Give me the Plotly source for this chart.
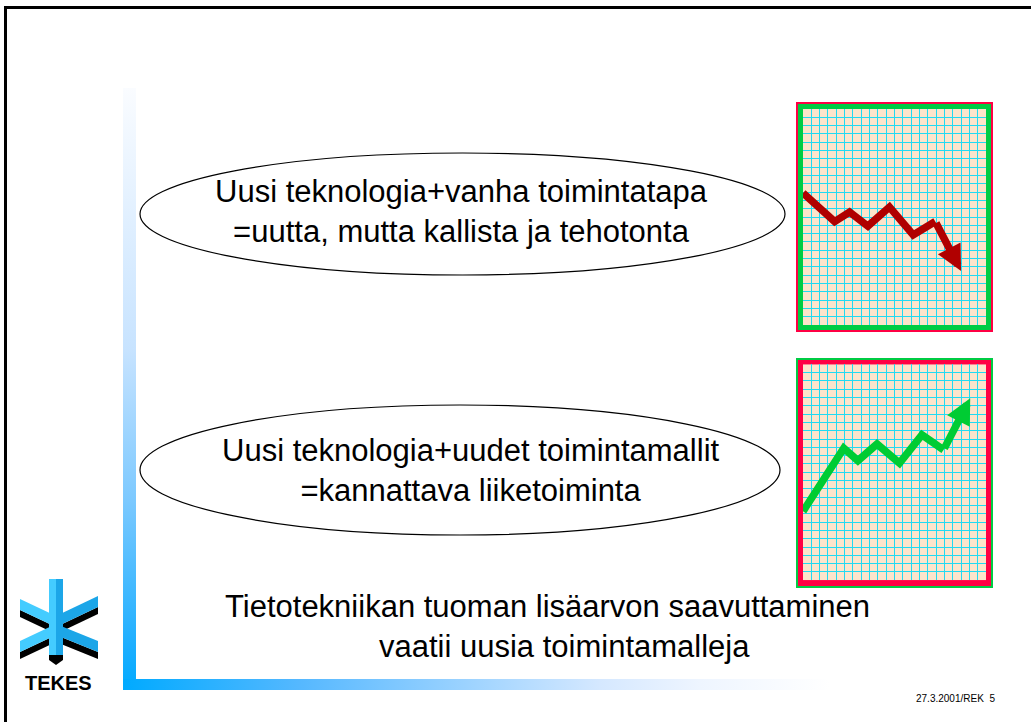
import plotly.graph_objects as go

# ---------------- data ----------------
# mini-chart series, in grid units (22 columns x 26 rows)
down_x = [0.0, 3.8, 5.6, 7.8, 10.4, 13.25, 15.9, 19.0]
down_y = [15.9, 12.45, 13.6, 11.9, 14.2, 10.85, 12.45, 6.5]
up_x = [0.0, 4.9, 6.6, 8.9, 11.6, 14.3, 16.9, 20.1]
up_y = [8.3, 15.9, 14.4, 16.4, 14.1, 17.5, 15.7, 21.9]
grid_cols = 22
grid_rows = 26

ellipse_texts = [
    "Uusi teknologia+vanha toimintatapa<br>=uutta, mutta kallista ja tehotonta",
    "Uusi teknologia+uudet toimintamallit<br>=kannattava liiketoiminta",
]
conclusion_lines = [
    "Tietotekniikan tuoman lisäarvon saavuttaminen",
    "vaatii uusia toimintamalleja",
]
footer_text = "27.3.2001/REK  5"
logo_text = "TEKES"

# ---------------- figure ----------------
W, H = 1031, 722
FONT = "Liberation Sans, Arial, sans-serif"
RED = "#FF0044"
GREEN = "#00CC44"
BEIGE = "#FDE4CB"
GRIDC = "#22DAF2"
BLUE = "#44CCFF"
BLUE_D = "#1CA6E8"
LW = 7.5

fig = go.Figure()

# gradient decoration bars (main pixel axes)
fig.add_trace(go.Scatter(
    x=[123, 136, 136, 123, 123], y=[88, 88, 690, 690, 88], mode="lines",
    fill="toself", line=dict(width=0), hoverinfo="skip", showlegend=False,
    fillgradient=dict(type="vertical", start=88, stop=690,
                      colorscale=[[0, "#FAFCFF"], [0.435, "#C7E3FF"], [0.684, "#7CC9FF"],
                                  [0.934, "#1AAEFF"], [1, "#00AAFF"]]),
    xaxis="x", yaxis="y"))
fig.add_trace(go.Scatter(
    x=[123, 830, 830, 123, 123], y=[679, 679, 690, 690, 679], mode="lines",
    fill="toself", line=dict(width=0), hoverinfo="skip", showlegend=False,
    fillgradient=dict(type="horizontal", start=123, stop=830,
                      colorscale=[[0, "#00AAFF"], [0.25, "#55B8FF"], [0.675, "#D5E8FF"],
                                  [0.816, "#EEF5FF"], [1, "#FFFFFF"]]),
    xaxis="x", yaxis="y"))

# mini chart lines
fig.add_trace(go.Scatter(x=down_x[:-1], y=down_y[:-1], mode="lines",
                         line=dict(color="#B00000", width=LW), showlegend=False,
                         hoverinfo="skip", xaxis="x2", yaxis="y2"))
fig.add_trace(go.Scatter(x=up_x[:-1], y=up_y[:-1], mode="lines",
                         line=dict(color="#00CC33", width=LW), showlegend=False,
                         hoverinfo="skip", xaxis="x3", yaxis="y3"))

shapes = []
# slide frame lines
shapes.append(dict(type="line", xref="x", yref="y", x0=5.5, x1=5.5, y0=6, y1=722,
                   line=dict(color="black", width=3)))
shapes.append(dict(type="line", xref="x", yref="y", x0=4, x1=1031, y0=7.5, y1=7.5,
                   line=dict(color="black", width=3)))

# box frames
def frame(y0, y1, outer, inner):
    shapes.append(dict(type="rect", xref="x", yref="y", x0=796, x1=993, y0=y0, y1=y1,
                       fillcolor=outer, line=dict(width=0), layer="below"))
    shapes.append(dict(type="rect", xref="x", yref="y", x0=798, x1=991, y0=y0 + 2, y1=y1 - 2,
                       fillcolor=inner, line=dict(width=0), layer="below"))

frame(102, 332, RED, GREEN)
frame(358, 588, GREEN, RED)
for ax in ("2", "3"):
    shapes.append(dict(type="rect", xref="x" + ax, yref="y" + ax,
                       x0=0, x1=grid_cols, y0=0, y1=grid_rows, fillcolor=BEIGE,
                       line=dict(width=0), layer="below"))

# ellipses
shapes.append(dict(type="circle", xref="x", yref="y", x0=140, x1=785, y0=153, y1=275,
                   line=dict(color="black", width=1.2)))
shapes.append(dict(type="circle", xref="x", yref="y", x0=140, x1=780, y0=405, y1=535,
                   line=dict(color="black", width=1.2)))

# TEKES logo (decorative)
def poly(pts, color):
    d = "M " + " L ".join("%g,%g" % p for p in pts) + " Z"
    shapes.append(dict(type="path", xref="x", yref="y", path=d, fillcolor=color,
                       line=dict(width=0)))

# shadows
poly([(20, 610), (56, 627), (56, 634), (20, 617)], "black")
poly([(56, 627), (98, 607), (98, 614), (56, 634)], "black")
poly([(20, 652), (56, 635), (56, 642), (20, 659)], "black")
poly([(56, 635), (98, 652), (98, 659), (56, 642)], "black")
poly([(49, 655), (63, 655), (63, 660), (56, 665), (49, 660)], "black")
# blue arms
poly([(20, 599), (56, 616), (56, 627), (20, 610)], BLUE)
poly([(56, 616), (98, 596), (98, 607), (56, 627)], BLUE_D)
poly([(20, 641), (56, 624), (56, 635), (20, 652)], BLUE)
poly([(56, 624), (98, 641), (98, 652), (56, 635)], BLUE_D)
poly([(49, 579), (56, 579), (56, 655), (49, 655)], BLUE)
poly([(56, 579), (63, 579), (63, 655), (56, 655)], BLUE_D)

annotations = []
annotations.append(dict(x=461, y=211, xref="x", yref="y", text=ellipse_texts[0],
                        showarrow=False, font=dict(family=FONT, size=31, color="black")))
annotations.append(dict(x=471, y=470, xref="x", yref="y", text=ellipse_texts[1],
                        showarrow=False, font=dict(family=FONT, size=31, color="black")))
annotations.append(dict(x=547, y=606, xref="x", yref="y", text=conclusion_lines[0],
                        showarrow=False, font=dict(family=FONT, size=31, color="black")))
annotations.append(dict(x=564, y=646, xref="x", yref="y", text=conclusion_lines[1],
                        showarrow=False, font=dict(family=FONT, size=31, color="black")))
annotations.append(dict(x=955, y=698, xref="x", yref="y", text=footer_text,
                        showarrow=False, font=dict(family=FONT, size=10, color="black")))
annotations.append(dict(x=58, y=683, xref="x", yref="y", text="<b>%s</b>" % logo_text,
                        showarrow=False, font=dict(family=FONT, size=20, color="black")))
# arrow heads of the mini charts
annotations.append(dict(x=down_x[-1], y=down_y[-1], ax=down_x[-2], ay=down_y[-2],
                        xref="x2", yref="y2", axref="x2", ayref="y2", text="",
                        showarrow=True, arrowhead=2, arrowsize=0.68, arrowwidth=LW,
                        arrowcolor="#B00000", standoff=0))
annotations.append(dict(x=up_x[-1], y=up_y[-1], ax=up_x[-2], ay=up_y[-2],
                        xref="x3", yref="y3", axref="x3", ayref="y3", text="",
                        showarrow=True, arrowhead=2, arrowsize=0.68, arrowwidth=LW,
                        arrowcolor="#00CC33", standoff=0))

hidden = dict(visible=False, showgrid=False, zeroline=False)
def grid_axis(rng, dom, anchor):
    return dict(range=rng, domain=dom, anchor=anchor, showgrid=True, gridcolor=GRIDC,
                gridwidth=1.3, tick0=0, dtick=1, showticklabels=False, ticks="",
                zeroline=False, showline=False)

fig.update_layout(
    width=W, height=H, margin=dict(l=0, r=0, t=0, b=0),
    paper_bgcolor="white", plot_bgcolor="rgba(0,0,0,0)",
    xaxis=dict(range=[0, W], domain=[0, 1], **hidden),
    yaxis=dict(range=[H, 0], domain=[0, 1], **hidden),
    xaxis2=grid_axis([0, grid_cols], [803 / W, 986 / W], "y2"),
    yaxis2=grid_axis([0, grid_rows], [1 - 325 / H, 1 - 109 / H], "x2"),
    xaxis3=grid_axis([0, grid_cols], [803 / W, 986 / W], "y3"),
    yaxis3=grid_axis([0, grid_rows], [1 - 580.3 / H, 1 - 364.3 / H], "x3"),
    shapes=shapes, annotations=annotations, showlegend=False,
)

fig.write_html("out.html", config={"displayModeBar": False},
               post_script="document.body.style.margin='0px';")
